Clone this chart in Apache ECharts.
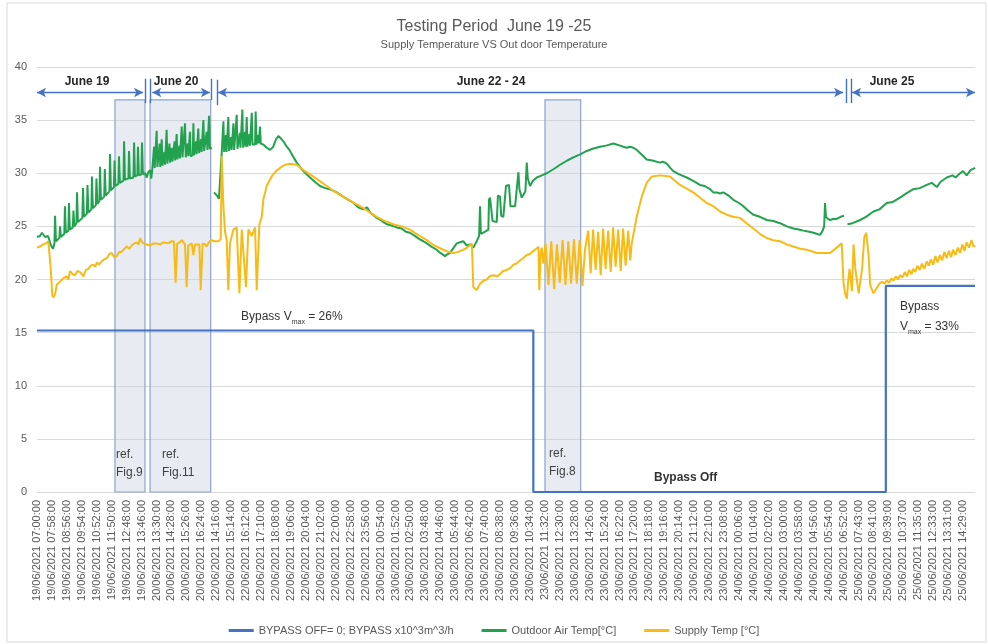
<!DOCTYPE html>
<html lang="en">
  <head>
    <meta charset="UTF-8" />
    <title>Testing Period June 19 -25</title>
    <style>
      body {
        margin: 0;
        background: #fff;
      }
      #main {
        width: 988px;
        height: 644px;
      }
    </style>
  </head>
  <body>
    <div id="main"></div>
    <script src="https://cdn.jsdelivr.net/npm/echarts@6.0.0/dist/echarts.min.js"></script>
    <script>
      // x values are in "tick label" units: label i sits at x = i
      const tickLabels = [
        "19/06/2021 07:00:00", "19/06/2021 07:58:00", "19/06/2021 08:56:00", "19/06/2021 09:54:00",
        "19/06/2021 10:52:00", "19/06/2021 11:50:00", "19/06/2021 12:48:00", "19/06/2021 13:46:00",
        "20/06/2021 13:30:00", "20/06/2021 14:28:00", "20/06/2021 15:26:00", "20/06/2021 16:24:00",
        "22/06/2021 14:16:00", "22/06/2021 15:14:00", "22/06/2021 16:12:00", "22/06/2021 17:10:00",
        "22/06/2021 18:08:00", "22/06/2021 19:06:00", "22/06/2021 20:04:00", "22/06/2021 21:02:00",
        "22/06/2021 22:00:00", "22/06/2021 22:58:00", "22/06/2021 23:56:00", "23/06/2021 00:54:00",
        "23/06/2021 01:52:00", "23/06/2021 02:50:00", "23/06/2021 03:48:00", "23/06/2021 04:46:00",
        "23/06/2021 05:44:00", "23/06/2021 06:42:00", "23/06/2021 07:40:00", "23/06/2021 08:38:00",
        "23/06/2021 09:36:00", "23/06/2021 10:34:00", "23/06/2021 11:32:00", "23/06/2021 12:30:00",
        "23/06/2021 13:28:00", "23/06/2021 14:26:00", "23/06/2021 15:24:00", "23/06/2021 16:22:00",
        "23/06/2021 17:20:00", "23/06/2021 18:18:00", "23/06/2021 19:16:00", "23/06/2021 20:14:00",
        "23/06/2021 21:12:00", "23/06/2021 22:10:00", "23/06/2021 23:08:00", "24/06/2021 00:06:00",
        "24/06/2021 01:04:00", "24/06/2021 02:02:00", "24/06/2021 03:00:00", "24/06/2021 03:58:00",
        "24/06/2021 04:56:00", "24/06/2021 05:54:00", "24/06/2021 06:52:00", "25/06/2021 07:43:00",
        "25/06/2021 08:41:00", "25/06/2021 09:39:00", "25/06/2021 10:37:00", "25/06/2021 11:35:00",
        "25/06/2021 12:33:00", "25/06/2021 13:31:00", "25/06/2021 14:29:00"
      ];

      const seriesNames = ["BYPASS OFF= 0; BYPASS x10^3m^3/h", "Outdoor Air Temp[°C]", "Supply Temp [°C]"];

      // bypass flow, step line
      const bypassData = [[0, 15.2], [33.23, 0], [56.83, 19.4], [62.8, 19.4]];

      const outdoorData = [
        [0.00,24.0],[0.20,24.1],[0.33,24.4],[0.54,24.0],[0.74,24.1],[0.87,24.2],[0.94,23.2],[1.07,22.9],
        [1.17,23.4],[1.21,26.0],[1.27,23.6],[1.50,23.9],[1.54,25.0],[1.60,24.0],
        [1.83,24.3],[1.87,26.9],[1.93,24.4],[2.10,24.6],[2.14,27.2],[2.20,24.7],
        [2.40,24.9],[2.44,26.5],[2.50,25.0],[2.64,25.3],[2.68,28.2],[2.74,25.4],
        [3.04,25.8],[3.08,28.6],[3.14,25.9],[3.34,26.2],[3.38,28.9],[3.44,26.3],
        [3.64,26.6],[3.68,29.7],[3.74,26.7],[3.94,27.0],[3.98,29.5],[4.04,27.1],
        [4.18,27.4],[4.22,30.6],[4.28,27.5],[4.50,27.8],[4.54,30.4],[4.60,27.9],
        [4.85,28.3],[4.89,31.8],[4.95,28.4],[5.15,28.7],[5.19,31.2],[5.25,28.8],
        [5.45,29.0],[5.49,31.6],[5.55,29.1],[5.79,29.3],[5.83,33.0],[5.89,29.4],
        [6.12,29.5],[6.16,32.1],[6.22,29.5],[6.46,29.6],[6.50,32.9],[6.56,29.7],
        [6.72,29.8],[6.76,32.5],[6.82,29.8],[6.99,29.9],[7.03,32.9],[7.09,29.9],
        [7.23,30.0],[7.35,29.6],[7.45,30.1],[7.57,30.3],[7.65,29.5],[7.72,30.4],
        [7.80,30.5],[7.84,32.5],[7.88,30.5],[7.97,30.5],[8.01,34.0],[8.06,30.6],
        [8.18,30.6],[8.21,32.8],[8.25,30.6],[8.31,30.7],[8.35,33.2],[8.40,30.7],
        [8.50,30.8],[8.53,32.0],[8.57,30.8],[8.64,30.9],[8.68,34.1],[8.73,30.9],
        [8.84,31.0],[8.87,32.8],[8.91,31.0],[8.98,31.1],[9.02,32.4],[9.07,31.1],
        [9.18,31.2],[9.21,33.0],[9.25,31.2],[9.31,31.3],[9.35,33.7],[9.40,31.3],
        [9.50,31.4],[9.53,32.6],[9.57,31.4],[9.65,31.5],[9.69,34.4],[9.74,31.5],
        [9.86,31.5],[9.91,34.7],[9.96,31.5],[10.06,31.6],[10.09,32.8],[10.13,31.6],
        [10.20,31.6],[10.24,33.9],[10.29,31.6],[10.43,31.7],[10.47,34.7],[10.52,31.7],
        [10.62,31.8],[10.65,33.0],[10.69,31.8],[10.76,31.9],[10.80,34.2],[10.85,31.9],
        [10.95,31.9],[10.98,33.2],[11.02,32.0],[11.10,32.0],[11.14,35.0],[11.19,32.1],
        [11.32,32.2],[11.36,33.9],[11.41,32.2],[11.48,32.3],[11.52,35.4],[11.57,32.3],
        [11.70,32.4],
        null,
        [11.85,28.2],[11.95,28.3],[12.05,27.9],[12.18,27.6],[12.30,27.7],[12.37,32.0],
        [12.45,31.9],[12.48,34.9],[12.53,32.0],[12.62,32.0],[12.65,33.6],[12.69,32.0],
        [12.77,32.1],[12.81,35.3],[12.86,32.1],[12.96,32.1],[12.99,33.4],[13.03,32.2],
        [13.11,32.2],[13.15,34.7],[13.20,32.2],[13.33,32.3],[13.37,35.5],[13.42,32.3],
        [13.55,32.3],[13.58,33.8],[13.62,32.4],[13.71,32.4],[13.75,36.0],[13.80,32.4],
        [13.90,32.5],[13.93,33.9],[13.97,32.5],[14.01,32.5],[14.04,35.3],[14.09,32.5],
        [14.19,32.6],[14.22,33.7],[14.26,32.6],[14.34,32.6],[14.38,35.7],[14.43,32.7],
        [14.60,32.7],[14.64,35.8],[14.69,32.7],[14.78,32.8],[14.81,33.6],[14.85,32.8],
        [14.89,32.8],[14.93,34.4],[14.98,32.8],[15.07,32.9],
        [15.15,32.7],[15.38,32.4],[15.60,32.2],[15.82,32.5],[16.00,33.2],[16.16,33.5],
        [16.38,33.2],[16.55,32.9],[16.72,32.5],[16.90,32.2],[17.05,31.8],[17.22,31.4],
        [17.39,31.0],[17.60,30.6],[17.83,30.2],[18.05,29.9],[18.28,29.6],[18.60,29.2],
        [18.95,28.8],[19.30,28.6],[19.60,28.5],[20.07,28.2],[20.50,27.8],[20.96,27.4],
        [21.20,27.2],[21.50,26.8],[21.85,26.6],[22.10,26.8],[22.30,26.3],[22.50,26.1],
        [22.75,25.8],[23.00,25.6],[23.20,25.4],[23.41,25.2],[23.70,25.1],[24.08,24.9],
        [24.40,24.8],[24.70,24.5],[24.97,24.4],[25.30,24.1],[25.60,23.8],[25.87,23.6],
        [26.10,23.4],[26.40,23.1],[26.76,22.8],[27.00,22.5],[27.32,22.2],[27.50,22.4],
        [27.65,22.5],[27.90,23.0],[28.10,23.4],[28.32,23.5],[28.54,23.6],[28.77,23.2],
        [29.00,23.3],[29.21,23.0],[29.44,23.6],
        [29.60,24.1],[29.66,26.9],[29.72,24.3],[30.00,24.5],[30.22,24.7],[30.26,27.5],
        [30.33,27.7],[30.40,27.6],[30.50,25.5],[30.78,25.4],[30.86,27.9],[31.00,27.8],
        [31.08,26.0],[31.22,25.9],[31.40,28.8],[31.50,28.7],[31.60,28.9],[31.70,26.9],
        [32.01,26.9],[32.23,30.1],[32.30,28.5],[32.45,27.7],[32.70,28.3],[32.79,31.0],
        [32.86,29.5],[33.01,28.8],[33.20,29.3],[33.46,29.6],[33.80,29.8],[34.13,30.0],
        [34.60,30.4],[35.02,30.8],[35.50,31.2],[35.91,31.5],[36.40,31.8],[36.81,32.1],
        [37.20,32.3],[37.70,32.5],[38.10,32.6],[38.59,32.8],[38.80,32.7],[39.04,32.6],
        [39.25,32.5],[39.48,32.4],[39.70,32.5],[39.93,32.4],[40.15,32.2],[40.37,31.9],
        [40.60,31.6],[40.82,31.3],[41.20,31.2],[41.71,31.0],[41.90,31.1],[42.16,30.9],
        [42.40,30.5],[42.60,30.2],[43.00,29.9],[43.50,29.6],[43.90,29.3],[44.39,28.9],
        [44.70,28.8],[45.06,28.5],[45.28,28.2],[45.51,28.2],[45.73,28.1],[45.95,28.2],
        [46.30,27.9],[46.62,27.5],[47.00,27.2],[47.29,26.9],[47.60,26.5],[47.96,26.1],
        [48.40,25.9],[48.86,25.6],[49.30,25.5],[49.75,25.3],[50.20,25.0],[50.64,24.8],
        [51.00,24.7],[51.31,24.6],[51.70,24.5],[51.98,24.4],[52.20,24.3],[52.43,24.2],
        [52.60,24.6],[52.70,25.0],[52.76,27.2],[52.82,25.9],[52.95,25.7],[53.10,25.6],
        [53.30,25.7],[53.54,25.7],[53.80,25.9],[54.03,26.0],
        null,
        [54.26,25.2],[54.60,25.3],[55.11,25.6],[55.50,25.9],[56.00,26.4],[56.40,26.6],
        [56.89,27.2],[57.30,27.3],[57.78,27.7],[58.20,28.1],[58.67,28.5],[59.10,28.6],
        [59.57,28.9],[59.90,29.1],[60.24,28.7],[60.50,29.2],[60.91,29.6],[61.30,29.8],
        [61.50,29.6],[61.80,30.0],[62.00,30.2],[62.24,29.8],[62.50,30.3],[62.81,30.5]
      ];

      const supplyData = [
        [0.00,23.0],[0.20,23.1],[0.42,23.3],[0.60,23.4],[0.76,23.6],[0.87,23.7],[0.92,21.0],[1.02,18.6],
        [1.09,18.3],[1.21,18.6],[1.32,19.5],[1.45,19.4],[1.54,19.8],[1.75,20.1],[1.99,20.3],[2.10,20.0],
        [2.21,20.8],[2.38,20.5],[2.54,20.4],[2.70,20.8],[2.88,20.7],[3.00,20.5],[3.10,20.3],[3.28,20.9],
        [3.44,21.0],[3.60,21.3],[3.77,21.4],[3.90,21.2],[4.00,21.6],[4.15,21.4],[4.33,21.7],[4.50,21.9],
        [4.67,22.0],[4.85,22.4],[5.00,22.5],[5.17,22.1],[5.34,22.2],[5.50,22.6],[5.67,22.6],[5.85,22.9],
        [6.01,23.1],[6.18,22.9],[6.34,23.2],[6.50,23.4],[6.68,23.5],[6.80,23.3],[6.90,23.9],[7.00,23.6],
        [7.12,23.4],[7.35,23.3],
        [7.57,23.2],[7.80,23.4],[8.01,23.4],[8.25,23.3],[8.46,23.5],[8.75,23.4],[9.02,23.6],[9.17,23.6],
        [9.28,19.7],[9.39,23.4],[9.55,23.5],[9.69,23.7],[9.91,23.3],[10.02,19.3],[10.13,23.2],[10.36,23.4],
        [10.47,22.3],[10.58,23.3],[10.69,23.4],[10.87,23.3],[10.96,19.0],[11.09,23.4],[11.25,23.3],[11.36,23.1],
        [11.50,23.5],[11.70,23.7],
        [11.90,23.6],[12.15,23.6],[12.30,23.8],[12.37,31.6],[12.48,26.9],[12.59,24.5],[12.70,23.7],[12.81,19.0],
        [12.92,23.4],[13.15,24.7],[13.37,24.9],[13.55,18.7],[13.71,24.7],[13.82,24.7],[13.99,19.3],[14.15,24.7],
        [14.38,24.1],[14.60,24.9],[14.71,19.0],[14.89,25.2],[15.05,25.9],[15.15,27.5],[15.38,28.8],[15.71,29.7],
        [16.00,30.2],[16.27,30.5],[16.60,30.8],[16.94,30.9],[17.39,30.8],[17.83,30.3],[18.28,29.9],[18.80,29.4],
        [19.40,28.8],[19.90,28.3],[20.51,27.8],[21.10,27.3],[21.63,26.9],[22.20,26.4],[22.75,25.9],[23.30,25.5],
        [23.86,25.2],[24.40,25.0],[24.97,24.7],[25.50,24.2],[26.09,23.7],[26.60,23.2],[27.20,22.8],[27.55,22.6],
        [27.87,22.5],[28.20,22.6],[28.54,22.8],[28.80,23.0],[29.11,23.4],[29.16,21.5],[29.21,19.3],[29.44,19.0],
        [29.66,19.6],[29.90,19.9],[30.11,20.0],[30.30,20.3],[30.56,20.4],[30.80,20.3],[31.00,20.5],[31.20,20.8],
        [31.45,20.9],[31.70,21.1],[31.89,21.4],[32.10,21.5],[32.34,21.8],[32.55,22.0],[32.79,22.3],[33.00,22.4],
        [33.23,22.7],[33.45,22.9],[33.57,23.1],[33.63,19.0],[33.72,22.5],[33.79,23.0],[33.90,21.5],
        [34.05,23.4],[34.24,19.5],[34.43,23.6],[34.62,19.1],[34.81,23.3],[35.00,19.7],[35.19,23.7],[35.38,19.5],
        [35.57,23.6],[35.76,19.6],[35.95,23.8],[36.14,19.6],[36.33,23.7],[36.52,19.4],[36.69,22.8],
        [36.90,24.6],[37.07,20.6],[37.23,24.7],[37.40,20.9],[37.57,24.5],[37.74,20.4],[37.90,24.8],[38.07,21.0],
        [38.24,24.6],[38.41,20.7],[38.57,24.9],[38.74,21.2],[38.91,24.7],[39.08,20.8],[39.24,24.8],[39.41,21.3],
        [39.58,24.6],[39.72,21.8],
        [39.82,23.4],[40.15,25.9],[40.49,27.8],[40.82,29.1],[41.16,29.7],[41.71,29.8],[42.38,29.7],[43.05,28.9],
        [43.94,28.2],[44.39,27.7],[44.84,27.2],[45.28,26.9],[45.73,26.4],[46.18,26.1],[46.60,25.9],[47.07,25.8],
        [47.50,25.3],[47.96,24.8],[48.40,24.3],[48.86,23.9],[49.30,23.7],[49.75,23.6],[50.20,23.3],[50.64,23.1],
        [51.10,22.9],[51.54,22.8],[52.21,22.5],[52.70,22.5],[53.10,22.5],[53.54,23.0],[53.88,23.4],[53.99,19.8],
        [54.10,18.7],[54.22,18.2],[54.32,20.0],[54.40,21.0],[54.48,20.0],[54.56,18.9],[54.67,23.3],[54.79,21.0],
        [55.01,18.7],[55.24,21.0],[55.39,24.0],[55.52,24.4],[55.68,22.2],[55.78,19.5],[56.00,18.7],[56.22,19.2],
        [56.40,19.6],[56.56,19.8],
        [56.75,19.6],[56.89,19.9],[57.05,19.7],[57.20,20.1],[57.35,19.9],[57.50,20.3],[57.65,20.0],[57.78,20.4],
        [57.95,20.2],[58.10,20.7],[58.25,20.3],[58.40,20.9],[58.55,20.5],[58.67,21.0],[58.80,20.7],[58.95,21.3],
        [59.10,20.9],[59.25,21.5],[59.40,21.0],[59.57,21.7],[59.70,21.3],[59.85,21.9],[60.00,21.4],[60.15,22.2],
        [60.30,21.6],[60.45,22.3],[60.60,21.8],[60.75,22.6],[60.90,22.0],[61.05,22.7],[61.20,22.1],[61.33,22.8],
        [61.50,22.3],[61.65,23.0],[61.80,22.5],[61.95,23.3],[62.10,22.7],[62.24,23.5],[62.40,23.0],[62.57,23.7],
        [62.70,23.1],[62.81,23.2]
      ];

      const myChart = echarts.init(document.getElementById("main"));

      const blue = "#4472c4";
      const textFont = '"Liberation Sans", Arial, sans-serif';

      const option = {
        animation: false,
        textStyle: { fontFamily: textFont },
        title: {
          text: "Testing Period  June 19 -25",
          subtext: "Supply Temperature VS Out door Temperature",
          left: "center",
          top: 14,
          padding: [5, 5, 5, 11],
          itemGap: 4,
          textStyle: { fontSize: 16, fontWeight: "normal", color: "#595959" },
          subtextStyle: { fontSize: 11, color: "#595959" },
        },
        legend: {
          top: 620,
          left: "center",
          icon: "rect",
          itemWidth: 25,
          itemHeight: 3,
          itemGap: 28,
          selectedMode: false,
          textStyle: { fontSize: 11, color: "#595959" },
          data: seriesNames,
        },
        grid: { left: 37, right: 13, top: 67, bottom: 152 },
        xAxis: {
          type: "value",
          min: 0,
          max: 62.8,
          interval: 1,
          axisLine: { show: false },
          axisTick: { show: false },
          splitLine: { show: false },
          axisLabel: {
            rotate: 90,
            margin: 8,
            fontSize: 11,
            color: "#595959",
            showMaxLabel: false,
            formatter: (v) => (Number.isInteger(v) && tickLabels[v]) || "",
          },
        },
        yAxis: {
          type: "value",
          min: 0,
          max: 40,
          interval: 5,
          axisLine: { show: false },
          axisTick: { show: false },
          axisLabel: { fontSize: 11, color: "#595959", margin: 10 },
          splitLine: { lineStyle: { color: "#d9d9d9", width: 1 } },
        },
        series: [
          {
            name: seriesNames[0],
            type: "line",
            step: "end",
            symbol: "none",
            z: 4,
            data: bypassData,
            lineStyle: { color: blue, width: 2.2 },
            itemStyle: { color: blue },
            emphasis: { disabled: true },
            markArea: {
              silent: true,
              z: 1,
              itemStyle: {
                color: "rgba(205,212,226,0.45)",
                borderColor: "#8ea3cf",
                borderWidth: 1.2,
              },
              data: [
                [{ coord: [5.22, 0] }, { coord: [7.23, 36.9] }],
                [{ coord: [7.57, 0] }, { coord: [11.63, 36.9] }],
                [{ coord: [34.01, 0] }, { coord: [36.4, 36.9] }],
              ],
            },
            markLine: {
              silent: true,
              symbol: ["arrow", "arrow"],
              symbolSize: [7, 9],
              label: { show: false },
              lineStyle: { color: blue, width: 1.4, type: "solid" },
              data: [
                [{ coord: [0, 37.6] }, { coord: [7.1, 37.6] }],
                [{ coord: [7.72, 37.6] }, { coord: [11.58, 37.6] }],
                [{ coord: [12.12, 37.6] }, { coord: [53.97, 37.6] }],
                [{ coord: [54.57, 37.6] }, { coord: [62.8, 37.6] }],
                [{ coord: [7.23, 38.9], symbol: "none" }, { coord: [7.23, 36.6], symbol: "none" }],
                [{ coord: [7.61, 38.9], symbol: "none" }, { coord: [7.61, 36.6], symbol: "none" }],
                [{ coord: [11.65, 38.9], symbol: "none" }, { coord: [11.65, 36.9], symbol: "none" }],
                [{ coord: [12.05, 38.8], symbol: "none" }, { coord: [12.05, 36.4], symbol: "none" }],
                [{ coord: [54.15, 38.9], symbol: "none" }, { coord: [54.15, 36.6], symbol: "none" }],
                [{ coord: [54.5, 38.9], symbol: "none" }, { coord: [54.5, 36.6], symbol: "none" }],
              ],
            },
          },
          {
            name: seriesNames[1],
            type: "line",
            symbol: "none",
            z: 3,
            connectNulls: false,
            data: outdoorData,
            lineStyle: { color: "#22a24f", width: 2 },
            itemStyle: { color: "#22a24f" },
            emphasis: { disabled: true },
          },
          {
            name: seriesNames[2],
            type: "line",
            symbol: "none",
            z: 3,
            data: supplyData,
            lineStyle: { color: "#f8bb16", width: 2 },
            itemStyle: { color: "#f8bb16" },
            emphasis: { disabled: true },
          },
        ],
        graphic: [
          {
            type: "rect",
            silent: true,
            z: 0,
            shape: { x: 7, y: 3, width: 979, height: 639 },
            style: { fill: "none", stroke: "#d9d9d9", lineWidth: 1 },
          },
          ...[
            ["June 19", 87],
            ["June 20", 176],
            ["June 22 - 24", 491],
            ["June 25", 892],
          ].map(([t, x]) => ({
            type: "text",
            silent: true,
            z: 20,
            style: {
              text: t, x: x, y: 82, textAlign: "center", textVerticalAlign: "middle",
              font: "bold 12px " + textFont, fill: "#262626",
            },
          })),
          ...[
            ["ref.\nFig.9", 116, 464],
            ["ref.\nFig.11", 162, 464],
            ["ref.\nFig.8", 549, 463],
          ].map(([t, x, y]) => ({
            type: "text",
            silent: true,
            z: 20,
            style: {
              text: t, x: x, y: y, textVerticalAlign: "middle", lineHeight: 18,
              font: "12px " + textFont, fill: "#404040",
            },
          })),
          {
            type: "text",
            silent: true,
            z: 20,
            style: {
              text: "{a|Bypass V}{s|max}{a| = 26%}", x: 241, y: 317, textVerticalAlign: "middle",
              rich: {
                a: { fontSize: 12, fontFamily: textFont, fill: "#333", lineHeight: 18 },
                s: { fontSize: 7, fontFamily: textFont, fill: "#333", lineHeight: 18, verticalAlign: "bottom" },
              },
            },
          },
          {
            type: "text",
            silent: true,
            z: 20,
            style: {
              text: "Bypass Off", x: 654, y: 478, textVerticalAlign: "middle",
              font: "bold 12px " + textFont, fill: "#333",
            },
          },
          {
            type: "text",
            silent: true,
            z: 20,
            style: {
              text: "Bypass", x: 900, y: 307, textVerticalAlign: "middle",
              font: "12px " + textFont, fill: "#333",
            },
          },
          {
            type: "text",
            silent: true,
            z: 20,
            style: {
              text: "{a|V}{s|max}{a| = 33%}", x: 900, y: 327, textVerticalAlign: "middle",
              rich: {
                a: { fontSize: 12, fontFamily: textFont, fill: "#333", lineHeight: 18 },
                s: { fontSize: 7, fontFamily: textFont, fill: "#333", lineHeight: 18, verticalAlign: "bottom" },
              },
            },
          },
        ],
      };

      myChart.setOption(option);
    </script>
  </body>
</html>
